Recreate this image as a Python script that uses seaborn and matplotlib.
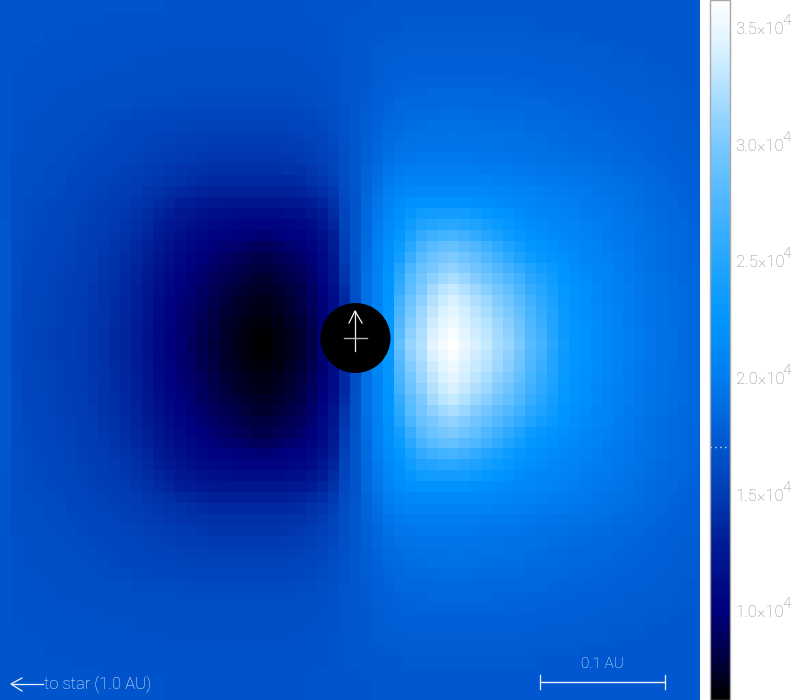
import matplotlib
matplotlib.use('Agg')
import matplotlib.pyplot as plt
from matplotlib.colors import LinearSegmentedColormap
from matplotlib.patches import Circle
import numpy as np
import pandas as pd
import seaborn as sns

# brightness, in units of 100, top edge down to the centre row
row_00 = [170,170,169,169,169,169,169,169,169,169,169,169,169,169,169,168,168,168,168,168,168,168,168,168,168,168,168,168,169,169,169,170,170, 170,171,171,172,172,172,172,172,172,172,172,172,172,172,172,172,172,172,172,172,172,171,171,171,171,171,171,171,171,171,171]
row_01 = [169,169,169,169,169,169,169,169,169,168,168,168,168,168,168,168,168,168,168,168,168,168,168,168,168,168,168,168,168,169,169,170,170, 171,172,172,173,173,173,173,173,173,173,173,173,173,173,173,173,173,173,172,172,172,172,172,172,172,172,171,171,171,171,171]
row_02 = [169,169,169,169,169,169,168,168,168,168,168,168,168,168,168,167,167,167,167,167,167,167,167,167,167,167,167,168,168,168,169,170,171, 171,172,173,173,174,174,174,174,174,174,174,174,174,174,174,174,173,173,173,173,173,173,173,172,172,172,172,172,172,171,171]
row_03 = [169,169,169,169,168,168,168,168,168,168,167,167,167,167,167,167,167,167,167,167,167,167,167,167,167,167,167,167,168,168,169,170,171, 171,173,174,174,175,175,175,175,175,175,175,175,175,175,175,174,174,174,174,174,173,173,173,173,173,172,172,172,172,172,171]
row_04 = [169,169,169,168,168,168,168,168,167,167,167,167,167,167,167,166,166,166,166,166,166,166,166,166,166,166,166,167,167,168,169,170,171, 172,174,175,175,176,176,176,176,176,176,176,176,176,176,176,175,175,175,175,174,174,174,174,173,173,173,173,172,172,172,172]
row_05 = [169,169,168,168,168,168,168,167,167,167,167,167,166,166,166,166,166,166,166,166,166,166,166,166,166,166,166,166,167,167,168,170,171, 172,174,176,177,177,177,177,177,177,177,177,177,177,177,177,177,176,176,176,175,175,175,174,174,174,174,173,173,173,172,172]
row_06 = [169,168,168,168,168,167,167,167,167,166,166,166,166,166,165,165,165,165,165,165,165,165,165,165,165,165,165,165,166,167,168,170,171, 173,175,177,178,179,179,179,179,179,179,179,179,179,179,178,178,178,177,177,177,176,176,175,175,175,174,174,174,173,173,172]
row_07 = [169,168,168,168,167,167,167,166,166,166,165,165,165,165,164,164,164,164,164,164,164,164,164,164,164,164,164,164,165,166,168,170,172, 173,176,178,180,180,181,181,181,181,181,181,181,181,180,180,180,179,179,178,178,177,177,176,176,175,175,174,174,174,173,173]
row_08 = [169,168,168,167,167,166,166,165,165,165,164,164,164,163,163,163,162,162,162,162,162,162,162,162,162,162,162,163,164,165,167,169,172, 174,177,179,181,182,182,183,183,183,183,183,183,182,182,182,181,181,180,180,179,179,178,178,177,176,176,175,175,174,174,173]
row_09 = [169,168,167,167,166,166,165,165,164,164,163,163,162,162,161,161,161,160,160,160,160,160,160,160,160,160,160,161,162,164,166,169,172, 174,178,181,183,184,184,185,185,185,185,185,185,184,184,184,183,183,182,181,181,180,180,179,178,177,177,176,175,175,174,173]
row_10 = [169,168,167,166,166,165,165,164,163,162,162,161,160,160,159,159,159,158,158,158,158,158,158,158,158,158,158,159,160,162,165,168,172, 175,179,182,185,186,187,187,188,188,188,187,187,187,186,186,185,185,184,183,182,182,181,180,179,179,178,177,176,175,174,174]
row_11 = [169,167,166,166,165,165,164,163,162,161,160,159,159,158,157,157,156,156,155,155,155,155,155,155,155,155,156,157,158,160,163,168,172, 175,180,184,187,188,189,190,190,190,190,190,189,189,188,188,187,186,186,185,184,183,182,182,181,180,179,178,177,176,175,174]
row_12 = [169,167,166,165,164,164,163,162,161,160,159,158,157,156,155,155,154,153,153,152,152,152,152,152,152,152,153,154,156,158,162,167,172, 176,181,186,189,190,191,192,192,193,192,192,191,191,190,190,189,188,187,186,185,185,184,183,182,181,180,179,178,176,175,175]
row_13 = [169,167,166,165,164,163,162,161,160,159,158,157,156,155,154,153,152,151,150,149,149,149,149,149,149,149,150,151,153,156,160,166,171, 177,183,188,192,193,194,194,194,194,194,194,193,193,192,191,191,190,189,188,187,186,185,184,183,182,181,180,179,177,176,175]
row_14 = [169,166,165,164,163,162,161,160,159,158,157,156,155,153,152,150,149,148,147,146,146,146,146,146,146,146,146,148,150,154,158,165,171, 178,185,191,195,196,197,197,197,197,197,196,196,195,195,194,193,192,191,190,189,188,187,186,185,184,183,181,180,178,177,176]
row_15 = [169,166,164,163,162,161,160,159,158,157,156,154,153,151,149,147,146,144,143,142,142,142,142,142,142,142,143,144,147,151,156,164,171, 180,187,194,198,200,200,200,200,200,200,200,199,199,198,197,196,195,194,193,192,191,190,188,187,186,184,183,181,180,178,176]
row_16 = [170,165,164,163,162,161,159,158,157,155,154,153,151,149,147,145,143,141,139,138,138,138,138,138,138,138,138,140,143,147,153,163,171, 181,189,198,203,205,206,206,206,206,206,205,205,204,203,202,201,199,198,197,195,194,193,191,190,188,186,184,183,181,179,177]
row_17 = [170,165,163,162,161,160,158,157,155,154,152,151,149,146,143,140,137,135,133,132,132,132,132,132,132,132,132,134,137,141,148,162,170, 182,192,202,208,211,213,213,213,213,213,212,211,210,208,206,205,203,201,200,198,197,195,193,192,190,188,186,184,182,180,178]
row_18 = [170,164,162,161,160,159,157,156,154,152,150,149,146,143,139,135,131,128,125,123,122,122,122,122,122,122,123,125,128,134,143,160,170, 183,195,206,214,220,222,222,222,222,221,219,217,215,213,211,209,207,205,203,201,199,197,195,194,192,189,187,185,183,181,179]
row_19 = [170,164,162,160,159,158,156,155,153,151,149,147,144,140,135,130,125,121,118,116,114,113,113,113,113,113,114,116,120,127,139,158,170, 184,196,209,218,228,235,237,238,238,236,232,228,224,220,216,213,210,208,205,203,201,199,197,195,193,190,188,186,184,182,180]
row_20 = [171,163,161,160,159,157,156,154,152,150,148,145,142,137,131,125,120,116,112,109,107,106,105,105,105,105,106,109,113,122,135,156,169, 185,198,212,222,235,245,250,253,253,250,245,239,233,227,221,217,214,211,208,205,203,200,198,196,194,191,189,187,185,183,181]
row_21 = [171,163,161,159,158,157,155,153,151,149,147,144,140,135,128,122,116,111,107,104,102,100,99,98,98,99,101,104,108,117,131,154,169, 186,200,215,227,243,257,265,269,270,265,258,250,242,235,227,221,217,214,211,208,205,202,199,197,195,192,190,188,186,183,181]
row_22 = [171,162,160,159,158,156,154,152,150,148,145,142,138,132,125,118,112,107,103,100,97,95,92,90,90,92,95,98,103,113,128,152,169, 187,202,218,232,253,270,280,286,288,282,275,266,256,247,237,228,223,218,214,211,208,205,201,198,196,193,191,188,186,184,182]
row_23 = [171,162,160,158,157,155,154,152,150,147,144,140,136,130,122,115,109,104,100,96,93,90,87,84,84,87,90,94,100,110,125,150,168, 188,204,220,238,262,280,292,298,300,294,286,276,266,256,245,234,228,222,218,214,210,207,203,200,197,194,192,189,187,184,182]
row_24 = [172,162,159,158,157,155,153,151,149,146,143,139,134,128,120,112,106,101,97,93,89,86,83,80,80,83,86,90,97,108,122,147,168, 189,204,222,248,272,290,298,306,310,303,295,286,277,268,257,245,238,230,223,217,213,209,205,201,198,195,192,189,187,185,183]
row_25 = [172,161,159,157,156,154,152,150,148,145,142,138,133,126,117,109,103,98,94,90,86,82,79,76,76,79,82,87,94,105,120,145,168, 190,205,224,254,280,296,307,316,320,313,304,296,286,277,266,253,245,235,225,219,215,210,206,202,199,196,193,190,188,185,183]
row_26 = [172,161,158,157,156,154,152,150,147,144,141,137,132,124,115,107,101,96,91,87,83,79,76,73,73,76,79,84,91,101,115,140,167, 190,206,225,260,285,301,317,327,332,324,315,306,296,287,275,261,251,239,227,221,217,212,207,203,200,196,193,190,188,186,184]
row_27 = [172,161,158,156,155,153,151,149,147,144,140,136,131,122,113,105,99,94,89,85,80,76,73,70,70,73,77,82,89,99,113,138,166, 190,207,226,266,292,308,324,335,340,332,323,314,304,294,282,267,256,243,229,222,218,213,208,204,200,197,194,191,189,186,184]
row_28 = [172,161,158,156,155,153,151,149,146,143,140,136,130,121,111,103,98,93,88,83,78,74,71,68,68,71,75,80,87,98,112,137,166, 190,207,227,272,298,314,330,341,347,338,329,320,310,300,287,271,260,246,231,223,219,214,209,205,201,197,194,191,189,186,184]
row_29 = [172,160,157,156,155,153,151,149,146,143,139,135,129,120,110,102,97,92,86,81,76,72,69,66,66,69,73,78,85,96,111,136,165, 190,208,228,277,303,318,335,346,352,342,333,325,314,305,292,275,263,248,232,224,220,215,209,205,201,197,194,191,189,186,184]
row_30 = [172,160,157,155,154,152,150,148,145,142,138,134,128,119,109,101,96,91,85,80,75,71,67,64,64,67,71,76,83,95,110,135,165, 190,208,228,282,308,322,340,351,357,346,337,329,318,309,296,278,266,250,233,225,221,215,210,206,202,198,195,192,190,187,185]
row_31 = [172,160,157,155,154,152,150,148,145,142,138,134,128,118,108,100,96,90,84,79,74,70,66,62,62,66,70,75,82,95,110,135,165, 190,208,228,287,312,324,345,355,362,350,340,332,320,312,300,281,269,253,235,226,222,216,210,206,202,198,195,192,190,187,185]

upper_rows = [row_00, row_01, row_02, row_03, row_04, row_05, row_06, row_07,
              row_08, row_09, row_10, row_11, row_12, row_13, row_14, row_15,
              row_16, row_17, row_18, row_19, row_20, row_21, row_22, row_23,
              row_24, row_25, row_26, row_27, row_28, row_29, row_30, row_31]

bar_ticks = [10000, 15000, 20000, 25000, 30000, 35000]
bar_labels = ['1.0', '1.5', '2.0', '2.5', '3.0', '3.5']
v_min = 6200
v_max = 36200
background = 17040

# the lower half is the upper half seen in a mirror
cells = np.array(upper_rows + upper_rows[30::-1] + [row_00]) * 100
df = pd.DataFrame(cells)

cmap = LinearSegmentedColormap.from_list('star', [
    (0.0, (0, 0, 0)),
    (0.06, (0, 0, 65/255)),
    (0.127, (0, 0, 125/255)),
    (0.227, (0, 30/255, 150/255)),
    (0.293, (0, 60/255, 180/255)),
    (0.36, (0, 85/255, 205/255)),
    (0.46, (0, 125/255, 240/255)),
    (0.543, (0, 150/255, 1)),
    (0.627, (35/255, 165/255, 1)),
    (0.793, (120/255, 200/255, 1)),
    (0.927, (215/255, 240/255, 1)),
    (1.0, (1, 1, 1))], N=256)

fig = plt.figure(figsize=(8, 7), dpi=100)
ax = fig.add_axes([0, 0, 700/800, 1])
cax = fig.add_axes([710/800, 0, 20/800, 1])

sns.heatmap(df, ax=ax, cmap=cmap, vmin=v_min, vmax=v_max, cbar_ax=cax,
            xticklabels=False, yticklabels=False, square=False)

# overlays are placed in pixels of the map
ax2 = ax.inset_axes([0, 0, 1, 1])
ax2.set_xlim(0, 700)
ax2.set_ylim(700, 0)
ax2.axis('off')
ax2.patch.set_alpha(0)

ax2.add_patch(Circle((355.5, 338), 35, color='black', lw=0))
ink = '#eef4fc'
thin = dict(family='Roboto', fontweight='light')
ax2.plot([355, 355], [311, 351], color=ink, lw=0.9)
ax2.plot([349, 355, 362], [323, 311, 323], color=ink, lw=0.9)
ax2.plot([344, 367], [338, 338], color='#b0b0b0', lw=1.0)

ax2.plot([43, 12], [684, 684], color=ink, lw=0.9)
ax2.plot([22, 11, 22], [678, 684, 691], color=ink, lw=0.9)
ax2.text(44, 684, 'to star (1.0 AU)', color=ink, fontsize=12, va='center',
         ha='left', **thin)

ax2.plot([540, 665], [682, 682], color=ink, lw=1.0)
ax2.plot([540, 540], [675, 689], color=ink, lw=0.9)
ax2.plot([665, 665], [675, 689], color=ink, lw=0.9)
ax2.text(602, 664, '0.1 AU', color=ink, fontsize=11, va='center', ha='center', **thin)

# colour bar
cb = ax.collections[0].colorbar
cb.outline.set_edgecolor('#a8a8a8')
cb.outline.set_linewidth(1.0)
cb.set_ticks(bar_ticks)
cb.set_ticklabels([lab + '×10' for lab in bar_labels])
cax.tick_params(length=0, pad=4, labelsize=12, labelcolor='#8c8c8c')
for lab in cax.get_yticklabels():
    lab.set_family('Roboto')
    lab.set_fontweight('light')
for t in bar_ticks:
    cax.annotate('4', xy=(1, t), xycoords=cax.get_yaxis_transform(),
                 xytext=(38, 5), textcoords='offset points', color='#8c8c8c',
                 fontsize=11, va='center', annotation_clip=False, **thin)
cax.hlines(background, 0, 1, transform=cax.get_yaxis_transform(),
           color='#cfe4ff', lw=1, linestyles=(0, (1, 2.5)))

fig.savefig('out.png', dpi=100)
